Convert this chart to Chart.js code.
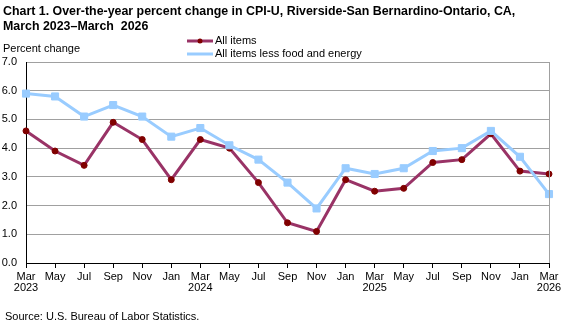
<!DOCTYPE html>
<html>
<head>
<meta charset="utf-8">
<script src="https://cdn.jsdelivr.net/npm/chart.js@4"></script>
<style>
  html, body { margin: 0; padding: 0; background: #fff; }
  #wrap { position: relative; width: 568px; height: 327px; }
</style>
</head>
<body>
<div id="wrap"><canvas id="chart" width="568" height="327"></canvas></div>
<script>
// data
const months = ['Mar', 'May', 'Jul', 'Sep', 'Nov', 'Jan', 'Mar', 'May', 'Jul', 'Sep', 'Nov', 'Jan', 'Mar', 'May', 'Jul', 'Sep', 'Nov', 'Jan', 'Mar'];
const years = ['2023', '', '', '', '', '', '2024', '', '', '', '', '', '2025', '', '', '', '', '', '2026'];
const allItems = [4.6, 3.9, 3.4, 4.9, 4.3, 2.9, 4.3, 4.0, 2.8, 1.4, 1.1, 2.9, 2.5, 2.6, 3.5, 3.6, 4.5, 3.2, 3.1];
const lessFoodEnergy = [5.9, 5.8, 5.1, 5.5, 5.1, 4.4, 4.7, 4.1, 3.6, 2.8, 1.9, 3.3, 3.1, 3.3, 3.9, 4.0, 4.6, 3.7, 2.4];
const seriesNames = ['All items', 'All items less food and energy'];

const titleLines = ['Chart 1. Over-the-year percent change in CPI-U, Riverside-San Bernardino-Ontario, CA,', 'March 2023\u2013March  2026'];
const yAxisTitle = 'Percent change';
const sourceText = 'Source: U.S. Bureau of Labor Statistics.';

const labels = months.map((m, i) => years[i] ? [m, years[i]] : [m]);
const FONT = '"Liberation Sans", Arial, sans-serif';

// title, legend, axis title, source and frame drawn on the canvas
const extras = {
  id: 'extras',
  afterDraw(chart) {
    const ctx = chart.ctx;
    const a = chart.chartArea;
    ctx.save();
    // right border of the plot box
    ctx.strokeStyle = '#a0a0a0';
    ctx.lineWidth = 1;
    ctx.beginPath();
    ctx.moveTo(Math.round(a.right) + 0.5, a.top);
    ctx.lineTo(Math.round(a.right) + 0.5, a.bottom);
    ctx.stroke();

    ctx.fillStyle = '#000';
    ctx.textBaseline = 'alphabetic';
    ctx.font = 'bold 12.4px ' + FONT;
    ctx.fillText(titleLines[0], 3, 15);
    ctx.fillText(titleLines[1], 3, 30);

    ctx.font = '11px ' + FONT;
    ctx.fillText(yAxisTitle, 3, 52);
    ctx.fillText(sourceText, 5, 320);

    // legend
    const ds = chart.data.datasets;
    const rows = [{ d: ds[1], y: 41 }, { d: ds[0], y: 54 }];
    rows.forEach(r => {
      ctx.strokeStyle = r.d.borderColor;
      ctx.lineWidth = 3;
      ctx.beginPath();
      ctx.moveTo(187, r.y);
      ctx.lineTo(213, r.y);
      ctx.stroke();
      ctx.fillStyle = r.d.pointBackgroundColor;
      if (r.d.pointStyle === 'circle') {
        ctx.beginPath();
        ctx.arc(200, r.y, 2.5, 0, Math.PI * 2);
        ctx.fill();
      }
      ctx.fillStyle = '#000';
      ctx.textBaseline = 'middle';
      ctx.fillText(r.d.label, 215, r.y);
    });
    ctx.restore();
  }
};

new Chart(document.getElementById('chart'), {
  type: 'line',
  data: {
    labels: labels,
    datasets: [
      {
        label: seriesNames[1],
        data: lessFoodEnergy,
        borderColor: '#99ccff',
        backgroundColor: '#99ccff',
        pointBackgroundColor: '#99ccff',
        pointBorderColor: '#99ccff',
        pointStyle: 'rect',
        pointRadius: 5,
        pointBorderWidth: 1,
        borderWidth: 3,
        tension: 0,
        order: 0
      },
      {
        label: seriesNames[0],
        data: allItems,
        borderColor: '#993366',
        backgroundColor: '#800000',
        pointBackgroundColor: '#800000',
        pointBorderColor: '#800000',
        pointStyle: 'circle',
        pointRadius: 3,
        pointBorderWidth: 1,
        borderWidth: 3,
        tension: 0,
        order: 1
      }
    ]
  },
  options: {
    responsive: false,
    animation: false,
    events: [],
    layout: { padding: { top: 62, right: 19, bottom: 24, left: 0 } },
    plugins: { legend: { display: false }, title: { display: false }, tooltip: { enabled: false } },
    scales: {
      x: {
        offset: false,
        grid: { drawOnChartArea: false, drawTicks: true, tickLength: 5, color: '#000' },
        border: { color: '#000', width: 1 },
        ticks: {
          color: '#000',
          font: { family: FONT, size: 11, lineHeight: 1.05 },
          maxRotation: 0,
          autoSkip: false,
          padding: 3
        },
        afterFit(scale) { scale.height = 40; }
      },
      y: {
        min: 0,
        max: 7,
        grid: { color: '#a0a0a0', drawTicks: false },
        border: { color: '#000', width: 1 },
        ticks: {
          stepSize: 1,
          color: '#000',
          padding: 9,
          font: { family: FONT, size: 11 },
          callback: v => v.toFixed(1)
        },
        afterFit(scale) { scale.width = 26; }
      }
    }
  },
  plugins: [extras]
});
</script>
</body>
</html>
